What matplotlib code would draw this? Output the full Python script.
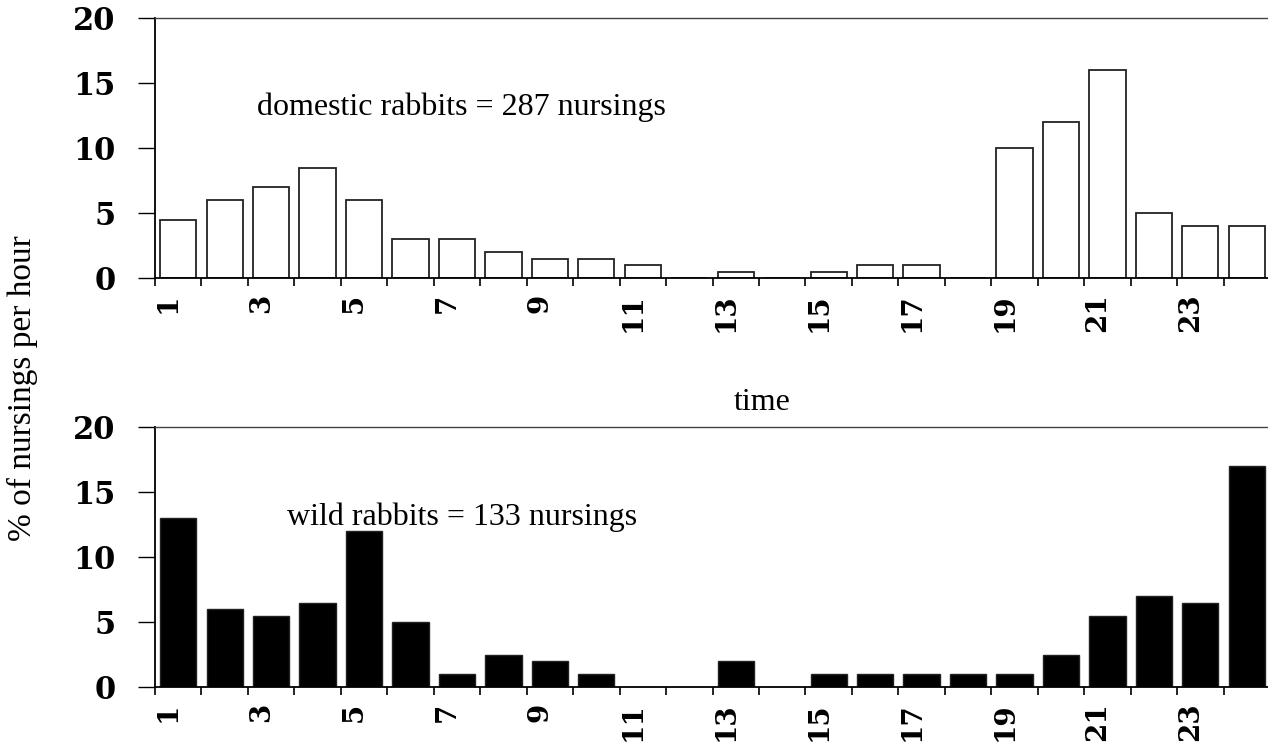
import numpy as np
import matplotlib
matplotlib.use("Agg")
import matplotlib.pyplot as plt

# hour of day, 1..24
hours = list(range(1, 25))

# % of nursings per hour
domestic = [4.5, 6, 7, 8.5, 6, 3, 3, 2, 1.5, 1.5, 1, 0,
            0.5, 0, 0.5, 1, 1, 0, 10, 12, 16, 5, 4, 4]
wild = [13, 6, 5.5, 6.5, 12, 5, 1, 2.5, 2, 1, 0, 0,
        2, 0, 1, 1, 1, 1, 1, 2.5, 5.5, 7, 6.5, 17]

tick_pos = [h - 0.5 for h in hours]
tick_labels = [str(h) if h % 2 == 1 else "" for h in hours]
y_ticks = [0, 5, 10, 15, 20]

W, H = 1268, 744
fig = plt.figure(figsize=(W / 100, H / 100), dpi=100)

serif = "Liberation Serif"


def px_axes(left, top, right, bottom):
    return fig.add_axes([left / W, 1 - bottom / H, (right - left) / W, (bottom - top) / H])


def setup_axes(ax):
    ax.set_xlim(0.5, 24.5)
    ax.set_ylim(0, 20)
    ax.spines["right"].set_visible(False)
    ax.spines["top"].set_color("#444444")
    ax.spines["top"].set_linewidth(1.0)
    ax.spines["left"].set_linewidth(1.3)
    ax.spines["bottom"].set_linewidth(1.3)

    ax.set_yticks(y_ticks)
    ax.set_yticklabels([str(v) for v in y_ticks])
    ax.tick_params(axis="y", direction="out", length=12.5, width=1.0, pad=16,
                   labelsize=22, labelfontfamily="DejaVu Serif")

    ax.set_xticks(tick_pos)
    ax.set_xticklabels(tick_labels)
    ax.tick_params(axis="x", direction="out", length=6, width=1.2, pad=5,
                   labelsize=20, labelfontfamily="DejaVu Serif", labelrotation=90)
    for lab in ax.get_xticklabels():
        lab.set_ha("left")
        lab.set_weight("bold")
    for lab in ax.get_yticklabels():
        lab.set_weight("bold")


ax1 = px_axes(155, 18, 1270, 278)
ax1.bar(hours, domestic, width=0.78, color="white", edgecolor="#222222", linewidth=1.3)
setup_axes(ax1)
ax1.text(2.7, 12.5, "domestic rabbits = 287 nursings", family=serif, fontsize=23,
         va="baseline", ha="left")

ax2 = px_axes(155, 427, 1270, 687)
ax2.bar(hours, wild, width=0.78, color="black", edgecolor="#222222", linewidth=1.0)
setup_axes(ax2)
ax2.text(3.34, 12.5, "wild rabbits = 133 nursings", family=serif, fontsize=23,
         va="baseline", ha="left")

fig.text(762 / W, 1 - 403 / H, "time", family=serif, fontsize=23, ha="center", va="center")
fig.text(22 / W, 1 - 388 / H, "% of nursings per hour", family=serif, fontsize=24,
         rotation=90, ha="center", va="center")

fig.savefig("out.png", dpi=100)
